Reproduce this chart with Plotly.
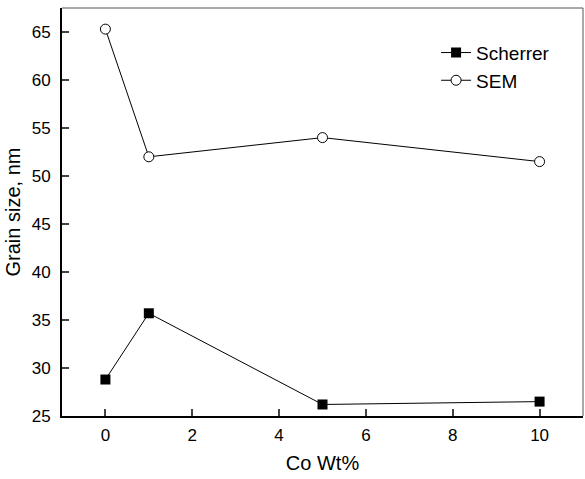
import plotly.graph_objects as go

# Cobalt content (wt%) and grain size estimates (nm)
co_wt = [0, 1, 5, 10]
scherrer_nm = [28.8, 35.7, 26.2, 26.5]
sem_nm = [65.3, 52.0, 54.0, 51.5]

x_ticks = [0, 2, 4, 6, 8, 10]
y_ticks = [25, 30, 35, 40, 45, 50, 55, 60, 65]

font_family = "Liberation Sans, Arial, sans-serif"

fig = go.Figure()
fig.add_trace(go.Scatter(
    x=co_wt, y=scherrer_nm, name="Scherrer", mode="lines+markers",
    line=dict(color="black", width=1),
    marker=dict(symbol="square", size=10, color="black"),
))
fig.add_trace(go.Scatter(
    x=co_wt, y=sem_nm, name="SEM", mode="lines+markers",
    line=dict(color="black", width=1),
    marker=dict(symbol="circle", size=10, color="white",
                line=dict(color="black", width=1)),
))

# thin grey frame on the top and right sides
fig.add_shape(type="line", xref="paper", yref="paper", x0=0, x1=1, y0=1, y1=1,
              line=dict(color="#555555", width=1))
fig.add_shape(type="line", xref="paper", yref="paper", x0=1, x1=1, y0=0, y1=1,
              line=dict(color="#555555", width=1))

fig.update_layout(
    width=585, height=479,
    margin=dict(l=62, r=2, t=8, b=63),
    paper_bgcolor="white", plot_bgcolor="white",
    font=dict(family=font_family, size=17, color="black"),
    showlegend=True,
    legend=dict(x=0.718, y=0.937, xanchor="left", yanchor="top",
                bgcolor="rgba(0,0,0,0)", font=dict(size=19),
                tracegroupgap=0),
    xaxis=dict(
        range=[-1, 11], tickvals=x_ticks, ticks="inside", ticklen=7,
        tickwidth=1.5, showline=True, linecolor="black", linewidth=1.8,
        mirror=False, showgrid=False, zeroline=False, ticklabelstandoff=3,
        title=dict(text="Co Wt%", font=dict(size=20), standoff=12),
    ),
    yaxis=dict(
        range=[25, 67.5], tickvals=y_ticks, ticks="inside", ticklen=7,
        tickwidth=1.5, showline=True, linecolor="black", linewidth=1.8,
        mirror=False, showgrid=False, zeroline=False, ticklabelstandoff=6,
        title=dict(text="Grain size, nm", font=dict(size=20), standoff=6),
    ),
)

fig.write_html("out.html")
